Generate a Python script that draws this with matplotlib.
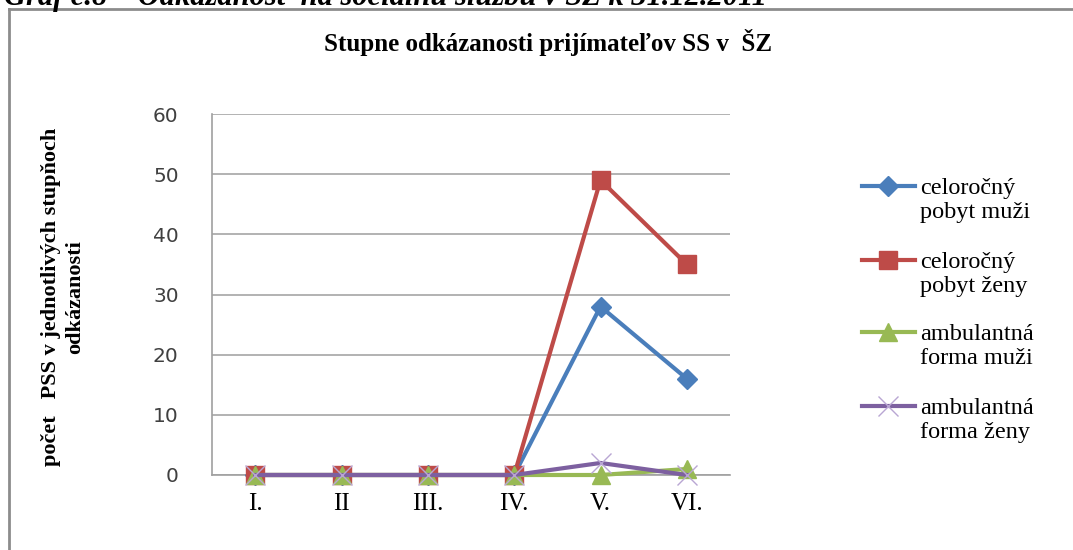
import matplotlib
matplotlib.use("Agg")
import matplotlib.pyplot as plt
from matplotlib.lines import Line2D

# Data
stupne = ["I.", "II", "III.", "IV.", "V.", "VI."]
celorocny_muzi = [0, 0, 0, 0, 28, 16]
celorocny_zeny = [0, 0, 0, 0, 49, 35]
ambulantna_muzi = [0, 0, 0, 0, 0, 1]
ambulantna_zeny = [0, 0, 0, 0, 2, 0]
nazvy = ["celoročný\npobyt muži", "celoročný\npobyt ženy",
         "ambulantná\nforma muži", "ambulantná\nforma ženy"]
y_ticks = [0, 10, 20, 30, 40, 50, 60]

serif = "Liberation Serif"
sans = "DejaVu Sans"

# styly serii
styly = [
    dict(color="#4A7EBB", marker="D", ms=10),
    dict(color="#BE4B48", marker="s", ms=13),
    dict(color="#98B954", marker="^", ms=13),
    dict(color="#7D60A0", marker="x", ms=14, mew=1, mec="#B9A6D3"),
]

fig = plt.figure(figsize=(10.73, 5.5), dpi=100)
ax = fig.add_axes([212/1073, 1 - 475/550, (730-212)/1073, (475-114)/550])

x = list(range(len(stupne)))
serie = [celorocny_muzi, celorocny_zeny, ambulantna_muzi, ambulantna_zeny]
for i, (hodnoty, st) in enumerate(zip(serie, styly)):
    ax.plot(x, hodnoty, lw=3, clip_on=False, zorder=3 + i, **st)

ax.set_xlim(-0.5, 5.5)
ax.set_ylim(0, 60)
ax.set_yticks(y_ticks)
ax.set_xticks(x)
ax.set_xticklabels(stupne, fontfamily=serif, fontsize=18)
ax.tick_params(axis="x", length=0, pad=13)
ax.tick_params(axis="y", length=0, pad=24, labelsize=14.5, labelcolor="#404040")
for lab in ax.get_yticklabels():
    lab.set_fontfamily(sans)
ax.grid(axis="y", color="#A6A6A6", lw=1.2)
ax.set_axisbelow(True)
for s in ["top", "right"]:
    ax.spines[s].set_visible(False)
for s in ["left", "bottom"]:
    ax.spines[s].set_color("#A0A0A0")
    ax.spines[s].set_linewidth(1.2)

# titulok a popis osi
fig.text(548/1073, 1 - 42/550, "Stupne odkázanosti prijímateľov SS v  ŠZ",
         ha="center", va="center", fontfamily=serif, fontweight="bold",
         fontsize=18)
fig.text(63/1073, 1 - 297/550,
         "počet   PSS v jednotlivých stupňoch\nodkázanosti",
         ha="center", va="center", rotation=90, fontfamily=serif,
         fontweight="bold", fontsize=16, linespacing=1.3)

# useknuty nadpis nad grafom
fig.text(0.004, 1 - 5/550,
         "Graf č.8 – Odkázanosť na sociálnu službu v ŠZ k 31.12.2011",
         ha="left", va="baseline", fontfamily=serif, fontweight="bold",
         fontstyle="italic", fontsize=22)

# legenda (rucne, znacka pri prvom riadku textu)
leg_y = [186, 260, 332, 406]
for nazov, st, yy in zip(nazvy, styly, leg_y):
    fy = 1 - yy/550
    fig.add_artist(Line2D([862/1073, 888/1073, 915/1073], [fy, fy, fy], lw=3,
                          markevery=[1], transform=fig.transFigure, **st))
    fig.text(920/1073, 1 - (yy + 14.5)/550, nazov, ha="left", va="center",
             fontfamily=serif, fontsize=17.5, linespacing=1.15)

# ramik okolo grafu
fig.add_artist(Line2D([9/1073, 9/1073], [0, 1 - 9/550], color="#8C8C8C",
                      lw=2, transform=fig.transFigure))
fig.add_artist(Line2D([9/1073, 1], [1 - 9/550, 1 - 9/550], color="#8C8C8C",
                      lw=2, transform=fig.transFigure))

fig.savefig("out.png", dpi=100)
